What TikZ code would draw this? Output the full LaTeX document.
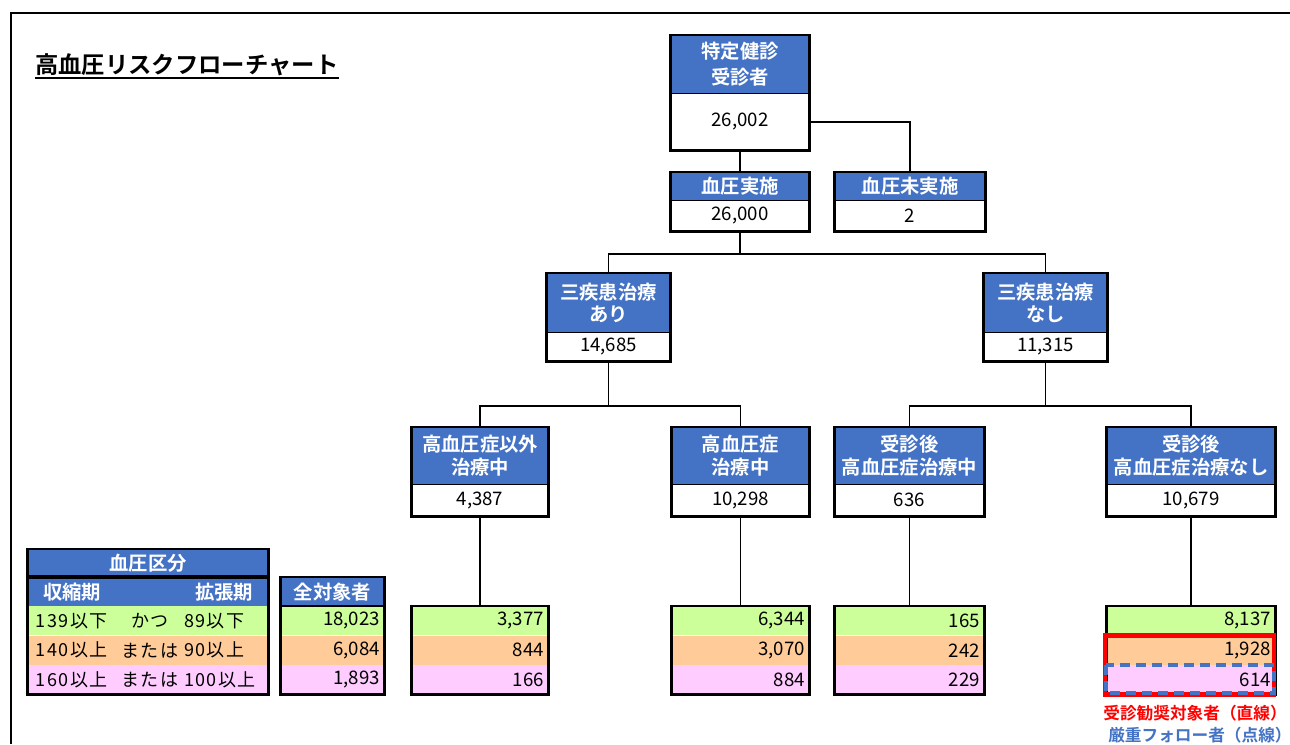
\documentclass[tikz,border=0pt]{standalone}
\usepackage{fontspec}
\setmainfont{Noto Sans CJK JP}[BoldFont={Noto Sans CJK JP Bold}]
\newfontfamily\legendfont{Noto Sans CJK JP}[LetterSpace=8]
\usetikzlibrary{positioning}
\definecolor{hdblue}{HTML}{4472C4}
\definecolor{rowgreen}{HTML}{CCFF99}
\definecolor{roworange}{HTML}{FFCC99}
\definecolor{rowpink}{HTML}{FFCCFF}
\newcommand{\px}{0.75pt}
\tikzset{
    hdcell/.style={
    rectangle,fill=hdblue,text=white,inner sep=0pt,align=center,anchor=north,
    font=\bfseries\fontsize{14.5}{17}\selectfont
    },
    hdtext/.style={
    inner sep=0pt,text=white,font=\bfseries\fontsize{14.5}{17}\selectfont
    },
    valcell/.style={
    rectangle,fill=white,inner sep=0pt,font=\fontsize{14}{16}\selectfont
    },
    rowcell/.style={
    rectangle,inner sep=0pt,align=right,anchor=north,minimum height=29*\px,
    font=\fontsize{14}{16}\selectfont
    },
    lgtext/.style={
    inner sep=0pt,font=\legendfont\fontsize{13.5}{16}\selectfont
    },
    boxline/.style={
    draw=black,line width=2.2pt
    },
    wire/.style={
    draw=black,line width=1.4pt
    },
}
% box with blue title and white count
\newcommand{\flowbox}[8]{%
  \node[hdcell,minimum width=#4*\px,minimum height=#5*\px] (#1-h) at (#2,#3) {#7};
  \node[valcell,minimum width=#4*\px,minimum height=#6*\px,below=0pt of #1-h] (#1-v) {#8};
  \draw[line width=0.6pt] (#1-h.south west) -- (#1-h.south east);
  \draw[boxline] (#1-h.north west) rectangle (#1-v.south east);
}
% three coloured count rows
\newcommand{\flowtable}[6]{%
  \node[rowcell,fill=rowgreen,minimum width=#3*\px,text width=(#3-8)*\px] (#1-1) at (#2,606) {#4};
  \node[rowcell,fill=roworange,minimum width=#3*\px,text width=(#3-8)*\px,below=0pt of #1-1] (#1-2) {#5};
  \node[rowcell,fill=rowpink,minimum width=#3*\px,text width=(#3-8)*\px,below=0pt of #1-2] (#1-3) {#6};
  \draw[boxline] (#1-1.north west) rectangle (#1-3.south east);
}
\begin{document}
\begin{tikzpicture}[x=0.75pt,y=-0.75pt]
  \useasboundingbox (0,0) rectangle (1290,744);
  \draw[line width=1.2pt] (11,744) |- (1290,13);

  % title
  \node[anchor=west,inner sep=0pt,font=\bfseries\fontsize{17.5}{20}\selectfont] (title) at (35,65) {高血圧リスクフローチャート};
  \draw[line width=1.5pt] ([yshift=-1pt]title.south west) -- ([yshift=-1pt]title.south east);

  % flow boxes
  \flowbox{top}{740}{35}{138}{58}{56}{特定健診\\[2pt]受診者}{26,002}
  \flowbox{jisshi}{740}{172}{138}{28}{30}{血圧実施}{26,000}
  \flowbox{mi}{910}{172}{150}{28}{30}{血圧未実施}{2}
  \flowbox{ari}{608.5}{273}{123}{59}{28}{三疾患治療\\あり}{14,685}
  \flowbox{nashi}{1045.5}{273}{123}{59}{28}{三疾患治療\\なし}{11,315}
  \flowbox{gai}{480}{427}{136}{57}{31}{高血圧症以外\\治療中}{4,387}
  \flowbox{chu}{740.5}{427}{137}{57}{31}{高血圧症\\治療中}{10,298}
  \flowbox{go}{909.5}{427}{149}{57}{31}{受診後\\高血圧症治療中}{636}
  \flowbox{gonashi}{1191}{427}{168}{57}{31}{受診後\\高血圧症治療なし}{10,679}

  % count tables
  \flowtable{gai}{480}{136}{3,377}{844}{166}
  \flowtable{chu}{740.5}{137}{6,344}{3,070}{884}
  \flowtable{go}{909.5}{149}{165}{242}{229}
  \flowtable{gonashi}{1191}{168}{8,137}{1,928}{614}

  % connectors
  \path[wire]
    (top-v.south) edge (jisshi-h.north)
    (top-v.east) -| (mi-h.north);
  \draw[wire] (jisshi-v.south) -- ++(0,23) -| (ari-h.north);
  \draw[wire] (jisshi-v.south) -- ++(0,23) -| (nashi-h.north);
  \draw[wire] (ari-v.south) -- ++(0,45) -| (gai-h.north);
  \draw[wire] (ari-v.south) -- ++(0,45) -| (chu-h.north);
  \draw[wire] (nashi-v.south) -- ++(0,45) -| (go-h.north);
  \draw[wire] (nashi-v.south) -- ++(0,45) -| (gonashi-h.north);
  \draw[wire] (gai-v.south) -- (gai-1.north);
  \draw[wire] (chu-v.south) -- (chu-1.north);
  \draw[wire] (go-v.south) -- (go-1.north);
  \draw[wire] (gonashi-v.south) -- (gonashi-1.north);

  % legend
  \node[hdcell,minimum width=240*\px,minimum height=27*\px] (kubun) at (148,549) {血圧区分};
  \draw[boxline] (kubun.north west) rectangle (kubun.south east);
  \node[hdcell,minimum width=240*\px,minimum height=28*\px] (kubun-h) at (148,578) {};
  \node[hdtext,anchor=west] at ([xshift=15*\px]kubun-h.west) {収縮期};
  \node[hdtext,anchor=east] at ([xshift=-15*\px]kubun-h.east) {拡張期};
  \node[rowcell,fill=rowgreen,minimum width=240*\px] (lg-1) at (148,606) {};
  \node[rowcell,fill=roworange,minimum width=240*\px,below=0pt of lg-1] (lg-2) {};
  \node[rowcell,fill=rowpink,minimum width=240*\px,below=0pt of lg-2] (lg-3) {};
  \node[lgtext,anchor=west] at ([xshift=8*\px]lg-1.west) {139以下};
  \node[lgtext] at ([xshift=2*\px]lg-1.center) {かつ};
  \node[lgtext,anchor=west] at ([xshift=156*\px]lg-1.west) {89以下};
  \node[lgtext,anchor=west] at ([xshift=8*\px]lg-2.west) {140以上};
  \node[lgtext] at ([xshift=2*\px]lg-2.center) {または};
  \node[lgtext,anchor=west] at ([xshift=156*\px]lg-2.west) {90以上};
  \node[lgtext,anchor=west] at ([xshift=8*\px]lg-3.west) {160以上};
  \node[lgtext] at ([xshift=2*\px]lg-3.center) {または};
  \node[lgtext,anchor=west] at ([xshift=156*\px]lg-3.west) {100以上};
  \draw[boxline] (kubun-h.north west) rectangle (lg-3.south east);

  % all subjects
  \node[hdcell,minimum width=103*\px,minimum height=29*\px] (zen-h) at (332.5,577) {全対象者};
  \flowtable{zen}{332.5}{103}{18,023}{6,084}{1,893}
  \draw[boxline] (zen-h.north west) rectangle (zen-3.south east);

  % marks
  \draw[red,line width=3.2pt] ([xshift=-2*\px]gonashi-2.north west) rectangle ([xshift=-1*\px]gonashi-3.south east);
  \draw[hdblue,line width=3pt,dash pattern=on 7.5pt off 4.5pt] ([xshift=-1*\px]gonashi-3.north west) rectangle ([xshift=-1*\px,yshift=2*\px]gonashi-3.south east);
  \node[text=red,inner sep=0pt,font=\bfseries\fontsize{12.5}{15}\selectfont] (note-red) at (1195,713) {受診勧奨対象者（直線）};
  \node[text=hdblue,inner sep=0pt,anchor=west,font=\bfseries\fontsize{12.5}{15}\selectfont] (note-blue) at (1108,735) {厳重フォロー者（点線）};
\end{tikzpicture}
\end{document}
